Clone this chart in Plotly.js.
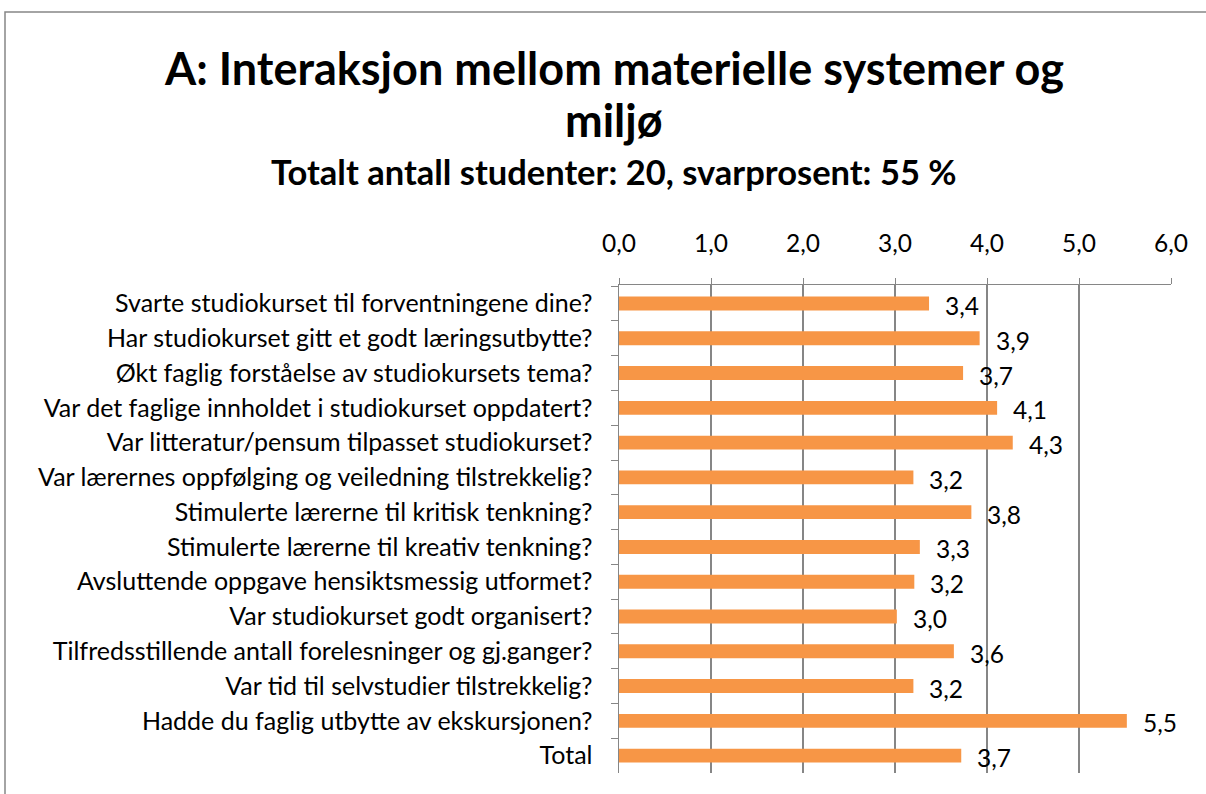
<!DOCTYPE html>
<html><head><meta charset="utf-8">
<script src="https://cdn.plot.ly/plotly-3.0.1.min.js"></script>
<style>body{margin:0;background:#fff}#c{width:1206px;height:794px}</style>
</head><body><div id="c"></div>
<script>
const categories = [
  "Svarte studiokurset til forventningene dine?",
  "Har studiokurset gitt et godt læringsutbytte?",
  "Økt faglig forståelse av studiokursets tema?",
  "Var det faglige innholdet i studiokurset oppdatert?",
  "Var litteratur/pensum tilpasset studiokurset?",
  "Var lærernes oppfølging og veiledning tilstrekkelig?",
  "Stimulerte lærerne til kritisk tenkning?",
  "Stimulerte lærerne til kreativ tenkning?",
  "Avsluttende oppgave hensiktsmessig utformet?",
  "Var studiokurset godt organisert?",
  "Tilfredsstillende antall forelesninger og gj.ganger?",
  "Var tid til selvstudier tilstrekkelig?",
  "Hadde du faglig utbytte av ekskursjonen?",
  "Total"
];
const values = [3.37, 3.92, 3.74, 4.11, 4.28, 3.20, 3.83, 3.27, 3.21, 3.02, 3.64, 3.20, 5.52, 3.72];
const tickVals = [0, 1, 2, 3, 4, 5, 6];
const tickText = ["0,0", "1,0", "2,0", "3,0", "4,0", "5,0", "6,0"];
const titleLine1 = "A: Interaksjon mellom materielle systemer og";
const titleLine2 = "miljø";
const subtitleText = "Totalt antall studenter: 20, svarprosent: 55 %";

const font = "Lato, Open Sans, sans-serif";
const fmt = v => v.toFixed(1).replace(".", ",");

// plot area geometry in pixels
const L = 619, R = 35, T = 285, B = 21, W = 1206, H = 794;
const pw = W - L - R, ph = H - T - B;
const px = x => (x - L) / pw;
const py = y => (H - B - y) / ph;

const trace = {
  type: "bar", orientation: "h",
  x: values, y: categories,
  marker: {color: "#F79646"},
  hoverinfo: "skip"
};

const annotations = values.map((v, i) => ({
  x: v, y: categories[i], xref: "x", yref: "y",
  text: fmt(v), showarrow: false, xanchor: "left", yanchor: "middle",
  xshift: 14, yshift: -2,
  font: {family: font, size: 24.5, color: "#000"}
}));
const titleAnn = (text, y, size) => ({
  x: px(614), xref: "paper", y: py(y), yref: "paper",
  xanchor: "center", yanchor: "middle", showarrow: false,
  text: "<b>" + text + "</b>",
  font: {family: font, size: size, color: "#000"}
});
annotations.push(titleAnn(titleLine1, 68, 45));
annotations.push(titleAnn(titleLine2, 120, 45));
annotations.push(titleAnn(subtitleText, 171, 34.5));

const layout = {
  width: W, height: H,
  margin: {l: L, r: R, t: T, b: B},
  paper_bgcolor: "#fff", plot_bgcolor: "#fff",
  separators: ",.",
  bargap: 0.6,
  showlegend: false,
  font: {family: font, color: "#000"},
  xaxis: {
    side: "top", range: [0, 6],
    tickvals: tickVals, ticktext: tickText,
    showgrid: true, gridcolor: "#868686", gridwidth: 1.5,
    showline: true, linecolor: "#868686", linewidth: 1.5,
    ticks: "outside", ticklen: 6, tickcolor: "#868686",
    tickfont: {family: font, size: 24.5, color: "#000"},
    ticklabelstandoff: 16,
    zeroline: false, fixedrange: true
  },
  yaxis: {
    autorange: "reversed", type: "category",
    showline: true, linecolor: "#868686", linewidth: 1.5,
    ticks: "outside", tickson: "boundaries", ticklen: 7, tickcolor: "#868686",
    tickfont: {family: font, size: 25, color: "#000"},
    ticklabelstandoff: 20,
    showgrid: false, fixedrange: true
  },
  annotations: annotations,
  shapes: [{
    type: "rect", xref: "paper", yref: "paper",
    x0: px(5), x1: px(1230), y0: py(820), y1: py(12),
    line: {color: "#868686", width: 1.5}, fillcolor: "rgba(0,0,0,0)", layer: "below"
  }]
};

Plotly.newPlot("c", [trace], layout, {displayModeBar: false, staticPlot: true});
</script>
</body></html>
